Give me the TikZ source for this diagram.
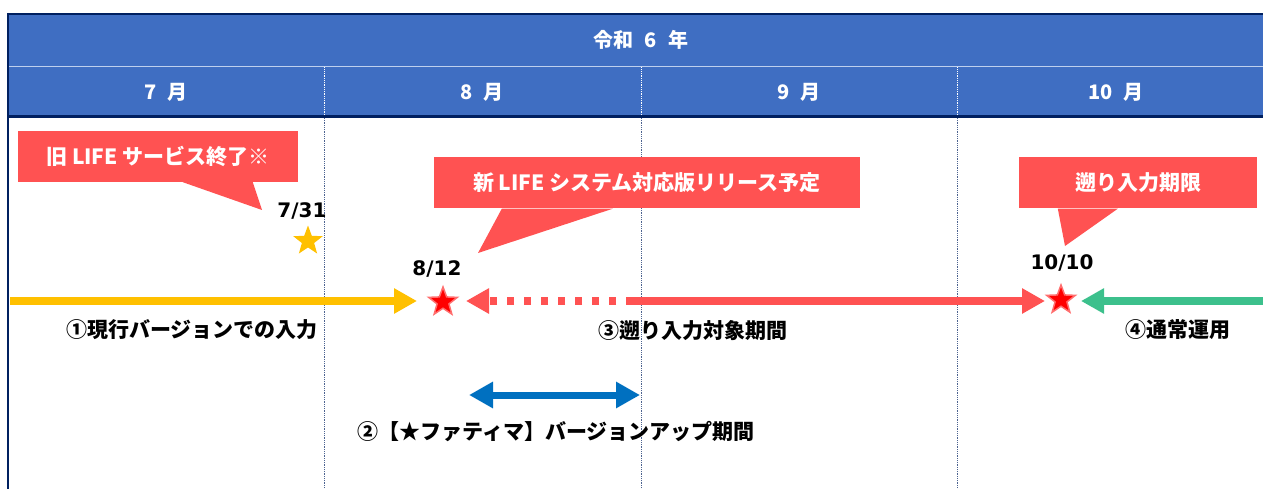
\documentclass[tikz,border=0pt]{standalone}
\usepackage{fontspec}
\setmainfont{Noto Sans CJK JP}
\newfontfamily\datefont{DejaVu Sans}
\usetikzlibrary{arrows.meta,shapes.geometric,calc}

\definecolor{headblue}{RGB}{63,110,194}
\definecolor{navy}{RGB}{0,32,96}
\definecolor{rowline}{RGB}{190,208,238}
\definecolor{calloutred}{RGB}{255,82,82}
\definecolor{flagyellow}{RGB}{255,192,0}
\definecolor{normalgreen}{RGB}{60,192,140}
\definecolor{upblue}{RGB}{0,112,192}
\definecolor{starred}{RGB}{255,0,0}
\definecolor{staredge}{RGB}{255,110,110}

\newcommand{\gap}{\hspace{0.55em}}

\tikzset{
	headtext/.style={text=white, font=\bfseries\fontsize{20}{22}\selectfont},
	callbox/.style={fill=calloutred, text=white, inner sep=0pt, minimum height=51pt,
		font=\bfseries\fontsize{21}{23}\selectfont},
	datetext/.style={font=\datefont\bfseries\fontsize{20}{22}\selectfont},
	phasetext/.style={font=\bfseries\fontsize{21}{24}\selectfont},
	phase/.style={line width=8pt, -{Triangle[length=23pt,width=24pt]}},
	starmark/.style={star, star points=5, star point ratio=2.4, inner sep=0pt, minimum size=30pt},
	divider/.style={densely dotted, line width=0.8pt}
}

\begin{document}
\begin{tikzpicture}[x=1pt, y=-1pt]
				\useasboundingbox (0,0) rectangle (1263,489);

				% Header
				\fill[headblue] (8,14) rectangle (1263,117);
				\draw[rowline, line width=1.6pt] (8,66.5) -- (1263,66.5);
				\draw[navy, line width=2.5pt] (7,14) -- (1263,14);
				\draw[navy, line width=2.5pt] (7,116.5) -- (1263,116.5);
				\draw[navy, line width=2pt] (8,13) -- (8,489);
				\node[headtext] (year) at (641,40) {令和\gap 6\gap 年};
				\node[headtext] (m7) at (166,92) {7\gap 月};
				\node[headtext] (m8) at (482,92) {8\gap 月};
				\node[headtext] (m9) at (799,92) {9\gap 月};
				\node[headtext] (m10) at (1116,92) {10\gap 月};

				% Month borders
				\foreach \x in {324,641,957} {
					\draw[divider, white] (\x,67.5) -- (\x,115);
					\draw[divider, navy!70] (\x,118) -- (\x,489);
				}

				% Callouts
				\node[callbox, minimum width=280pt] (c1) at (158,156.5) {旧 LIFE サービス終了※};
				\node[callbox, minimum width=426pt] (c2) at (647,183) {新 LIFE システム対応版リリース予定};
				\node[callbox, minimum width=238pt] (c3) at (1138,183) {遡り入力期限};
				\coordinate (t1) at (262,210);
				\coordinate (t2) at (478,253);
				\coordinate (t3) at (1065,246);
				\fill[calloutred] ($(c1.south west)+(165,0)$) -- (t1) -- ($(c1.south west)+(235,0)$) -- cycle;
				\fill[calloutred] ($(c2.south west)+(68,0)$) -- (t2) -- ($(c2.south west)+(179,0)$) -- cycle;
				\fill[calloutred] ($(c3.south west)+(39,0)$) -- (t3) -- ($(c3.south west)+(99,0)$) -- cycle;

				% Dates and stars
				\node[datetext] (d1) at (302,211) {7/31};
				\node[datetext] (d2) at (437,269) {8/12};
				\node[datetext] (d3) at (1062,263) {10/10};
				\node[starmark, fill=flagyellow, minimum size=31pt] (s1) at (308,241) {};
				\node[starmark, fill=starred, draw=staredge, line width=1.5pt] (s2) at (443,302) {};
				\node[starmark, fill=starred, draw=staredge, line width=1.5pt] (s3) at (1061,300) {};

				% Phase arrows
				\coordinate (p1a) at (10,301);
				\coordinate (p1b) at (417,301);
				\coordinate (p3a) at (466,301);
				\coordinate (p3m) at (633,301);
				\coordinate (p3b) at (1045,301);
				\coordinate (p4a) at (1263,301);
				\coordinate (p4b) at (1081,301);
				\coordinate (p2a) at (469,395);
				\coordinate (p2b) at (640,395);
				\draw[phase, flagyellow] (p1a) -- (p1b);
				\draw[phase, calloutred] (p3m) -- (p3b);
				\draw[phase, calloutred, dash pattern=on 7pt off 10pt] (p3m) -- (p3a);
				\draw[phase, normalgreen] (p4a) -- (p4b);
				\draw[phase, upblue, line width=7pt, {Triangle[length=24pt,width=25pt]}-{Triangle[length=24pt,width=25pt]}] (p2a) -- (p2b);

				% Phase labels
				\node[phasetext] (l1) at (192,330) {①現行バージョンでの入力};
				\node[phasetext] (l3) at (693,331) {③遡り入力対象期間};
				\node[phasetext] (l4) at (1178,330) {④通常運用};
				\node[phasetext] (l2) at (556,432) {②【★ファティマ】バージョンアップ期間};
\end{tikzpicture}
\end{document}
